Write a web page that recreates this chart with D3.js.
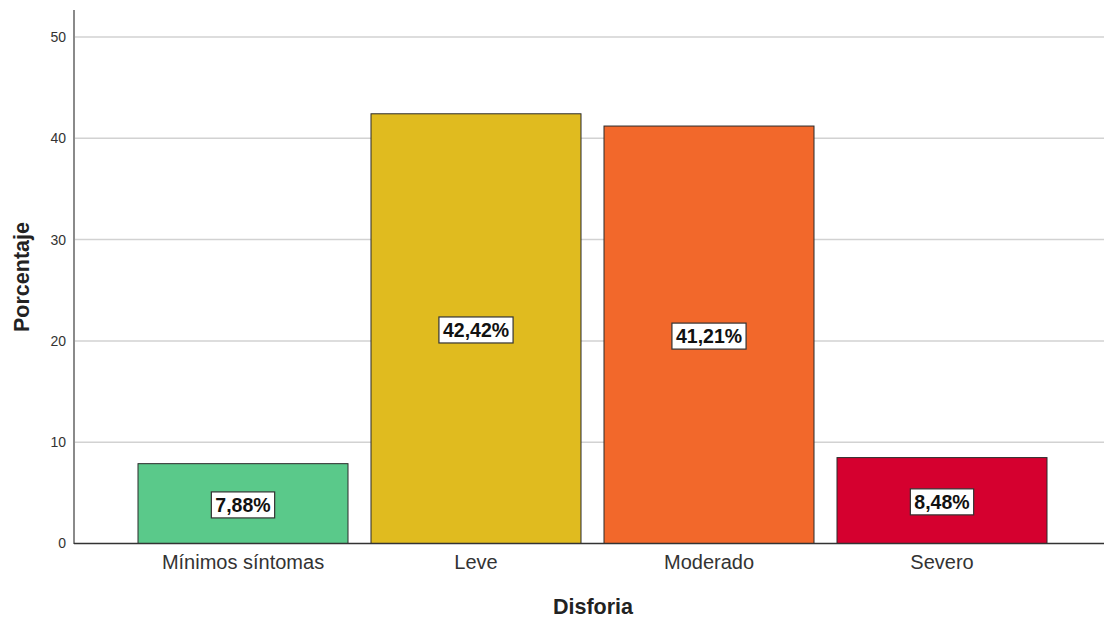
<!DOCTYPE html>
<html><head><meta charset="utf-8">
<script src="https://cdn.jsdelivr.net/npm/d3@7"></script>
<style>body{margin:0;background:#fff}svg{display:block}</style>
</head><body><svg id="c" width="1104" height="620"></svg>
<script>
const categories = ["Mínimos síntomas", "Leve", "Moderado", "Severo"];
const values = [7.88, 42.42, 41.21, 8.48];
const labels = ["7,88%", "42,42%", "41,21%", "8,48%"];
const colors = ["#5ac98a", "#e0bb1f", "#f2682b", "#d5002f"];
const yTicks = [0, 10, 20, 30, 40, 50];

const svg = d3.select("#c");
const font = "Arial, 'Liberation Sans', sans-serif";
const y = d3.scaleLinear().domain([0, 50]).range([543.5, 37]);
const x = d3.scaleBand().domain(categories).range([126.5, 1058.5]).paddingInner(23/233).paddingOuter(23/466);

// gridlines
svg.append("g").selectAll("line").data(yTicks.filter(d => d > 0)).join("line")
  .attr("x1", 74).attr("x2", 1104).attr("y1", d => y(d)).attr("y2", d => y(d))
  .attr("stroke", "#d2d2d2").attr("stroke-width", 1.5);

// y axis
const ya = svg.append("g").attr("transform", "translate(74,0)")
  .call(d3.axisLeft(y).tickValues(yTicks).tickSize(0).tickPadding(8));
ya.select(".domain").remove();
ya.selectAll("text").attr("font-family", font).attr("font-size", 14).attr("fill", "#333");
svg.append("line").attr("x1", 74).attr("x2", 74).attr("y1", 10).attr("y2", 544)
  .attr("stroke", "#8a8a8a").attr("stroke-width", 2);

// bars
svg.append("g").selectAll("rect").data(values).join("rect")
  .attr("x", (d, i) => x(categories[i]))
  .attr("width", x.bandwidth())
  .attr("y", d => y(d))
  .attr("height", d => y(0) - y(d))
  .attr("fill", (d, i) => colors[i])
  .attr("stroke", "#2a2a2a").attr("stroke-width", 1);

// x axis line
svg.append("line").attr("x1", 74).attr("x2", 1104).attr("y1", 543.5).attr("y2", 543.5)
  .attr("stroke", "#333").attr("stroke-width", 1.5);

// x axis labels
const xa = svg.append("g").attr("transform", "translate(0,543.5)")
  .call(d3.axisBottom(x).tickSize(0).tickPadding(11));
xa.select(".domain").remove();
xa.selectAll("text").attr("font-family", font).attr("font-size", 20).attr("fill", "#333");

// value labels
const lg = svg.append("g").selectAll("g").data(values).join("g")
  .attr("transform", (d, i) => `translate(${x(categories[i]) + x.bandwidth()/2},${(y(d) + y(0))/2 + 1.5})`);
lg.append("text").text((d, i) => labels[i])
  .attr("text-anchor", "middle").attr("dy", "0.35em")
  .attr("font-family", font).attr("font-size", 19.5).attr("font-weight", "bold").attr("fill", "#111")
  .each(function() {
    const b = this.getBBox();
    d3.select(this.parentNode).insert("rect", "text")
      .attr("x", b.x - 4).attr("y", b.y - 2).attr("width", b.width + 8).attr("height", b.height + 4)
      .attr("fill", "#fff").attr("stroke", "#333").attr("stroke-width", 1.2);
  });

// axis titles
svg.append("text").text("Disforia").attr("x", 593).attr("y", 614)
  .attr("text-anchor", "middle").attr("font-family", font).attr("font-size", 21.5)
  .attr("font-weight", "bold").attr("fill", "#222");
svg.append("text").text("Porcentaje").attr("transform", "translate(29,277) rotate(-90)")
  .attr("text-anchor", "middle").attr("font-family", font).attr("font-size", 21.5)
  .attr("font-weight", "bold").attr("fill", "#222");
</script></body></html>
